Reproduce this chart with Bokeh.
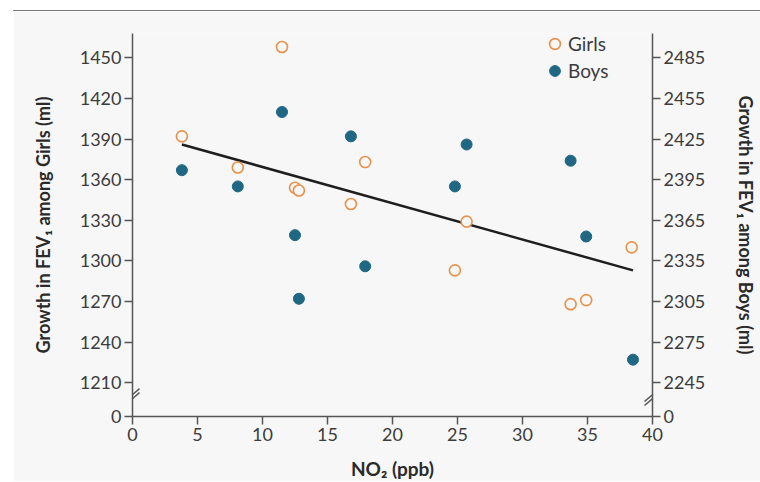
from bokeh.plotting import figure
from bokeh.models import Range1d, LinearAxis, FixedTicker, Arrow
from bokeh.embed import file_html
from bokeh.resources import INLINE

# ---- data ----
girls_no2 = [3.8, 11.5, 8.1, 12.5, 12.8, 17.9, 16.8, 25.7, 38.4, 24.8, 33.7, 34.9]
girls_fev = [1392, 1458, 1369, 1354, 1352, 1373, 1342, 1329, 1310, 1293, 1268, 1271]

boys_no2 = [3.8, 8.1, 11.5, 16.8, 12.5, 17.9, 12.8, 25.7, 24.8, 33.7, 34.9, 38.5]
boys_fev = [2402, 2390, 2445, 2427, 2354, 2331, 2307, 2421, 2390, 2409, 2353, 2262]

fit_no2 = [3.8, 38.5]
fit_girls = [1386, 1293]

x_ticks = [0, 5, 10, 15, 20, 25, 30, 35, 40]
girls_ticks = [1210, 1240, 1270, 1300, 1330, 1360, 1390, 1420, 1450]
boys_ticks = [2245, 2275, 2305, 2335, 2365, 2395, 2425, 2455, 2485]

GIRLS_ZERO, GIRLS_TOP = 1185, 1468   # broken axis: "0" sits at the bottom
BOYS_ZERO, BOYS_TOP = 2220, 2503

ORANGE = "#e8914a"
TEAL = "#1f6782"
BG = "#f7f7f7"
AXIS = "#555555"
TXT = "#3c3c3c"
FONT = "Lato"

p = figure(width=747, height=471, output_backend="svg", toolbar_location=None,
           x_range=Range1d(0, 40), y_range=Range1d(GIRLS_ZERO, GIRLS_TOP),
           min_border_left=119, min_border_right=107, min_border_top=22, min_border_bottom=64,
           background_fill_color=BG, border_fill_color=BG, outline_line_color=None,
           styles={"margin-left": "13px", "margin-top": "10px", "border-top": "1px solid #777777"})
p.grid.visible = False
p.extra_y_ranges = {"boys": Range1d(BOYS_ZERO, BOYS_TOP)}

def style_axis(ax):
    ax.axis_line_color = AXIS
    ax.axis_line_width = 1.5
    ax.major_tick_line_color = AXIS
    ax.major_tick_line_width = 1.5
    ax.major_tick_in = 0
    ax.major_tick_out = 8
    ax.minor_tick_line_color = None
    ax.major_label_text_font = FONT
    ax.major_label_text_font_size = "18px"
    ax.major_label_text_color = TXT
    ax.major_label_standoff = 3
    ax.axis_label_text_font = FONT
    ax.axis_label_text_font_style = "bold"
    ax.axis_label_text_font_size = "18px"
    ax.axis_label_text_color = "#2a2a2a"

xa = p.xaxis[0]
xa.ticker = FixedTicker(ticks=x_ticks)
xa.axis_label = "NO\u2082 (ppb)"
style_axis(xa)
xa.axis_label_text_font_size = "19px"
xa.axis_label_standoff = 13

ya = p.yaxis[0]
ya.ticker = FixedTicker(ticks=[GIRLS_ZERO] + girls_ticks)
ya.major_label_overrides = {GIRLS_ZERO: "0"}
ya.axis_label = "Growth in FEV\u2081 among Girls (ml)"
style_axis(ya)
ya.axis_label_standoff = 23

ra = LinearAxis(y_range_name="boys")
ra.ticker = FixedTicker(ticks=[BOYS_ZERO] + boys_ticks)
ra.major_label_overrides = {BOYS_ZERO: "0"}
ra.axis_label = "Growth in FEV\u2081 among Boys (ml)"
style_axis(ra)
ra.axis_label_standoff = 27
p.add_layout(ra, "right")

# regression line
p.line(fit_no2, fit_girls, line_color="#1e1e1e", line_width=2.5)

# points
p.scatter(girls_no2, girls_fev, marker="circle", size=11, fill_color=BG,
          line_color=ORANGE, line_width=1.6, legend_label="Girls")
p.scatter(boys_no2, boys_fev, marker="circle", size=11, fill_color=TEAL,
          line_color=TEAL, y_range_name="boys", legend_label="Boys")

lg = p.legend[0]
lg.location = (409, 332)
lg.background_fill_alpha = 0
lg.border_line_color = None
lg.padding = 0
lg.margin = 0
lg.spacing = 0
lg.glyph_width = 27
lg.glyph_height = 27
lg.label_height = 27
lg.label_standoff = 0
lg.label_text_font = FONT
lg.label_text_font_size = "19px"
lg.label_text_color = TXT

# axis-break marks (two short slashes on each vertical axis)
px_x = 40 / 521.0
px_y = (GIRLS_TOP - GIRLS_ZERO) / 385.0
for x_axis_pos in (0, 40):
    for shift in (0, 4):
        p.add_layout(Arrow(end=None, start=None,
                           x_start=x_axis_pos - 8 * px_x, y_start=GIRLS_ZERO + (11 + shift) * px_y,
                           x_end=x_axis_pos + 7 * px_x, y_end=GIRLS_ZERO + (24 + shift) * px_y,
                           line_color=AXIS, line_width=1.4))

open("out.html", "w").write(file_html(p, INLINE))
